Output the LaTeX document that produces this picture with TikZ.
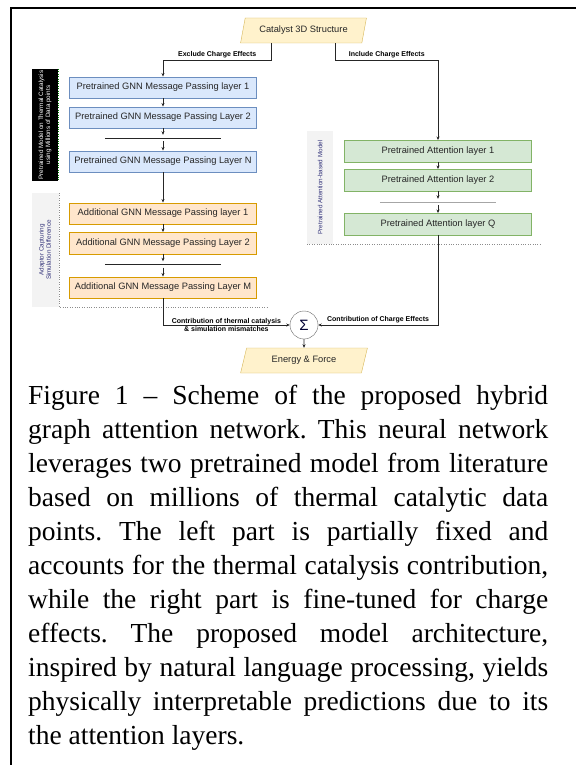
\documentclass[tikz,border=0pt]{standalone}
\usepackage{fontspec}
\setmainfont{Liberation Sans}
\newfontfamily\capfont{Liberation Serif}
\usetikzlibrary{shapes.geometric,arrows.meta}

\definecolor{gnnfill}{HTML}{DAE8FC}
\definecolor{gnnline}{HTML}{6C8EBF}
\definecolor{adpfill}{HTML}{FFE6CC}
\definecolor{adpline}{HTML}{D79B00}
\definecolor{attfill}{HTML}{D5E8D4}
\definecolor{attline}{HTML}{82B366}
\definecolor{iofill}{HTML}{FFF2CC}
\definecolor{ioline}{HTML}{D6B656}
\definecolor{tagfill}{HTML}{F3F3F3}

\tikzset{
  layer/.style={draw, minimum width=187pt, minimum height=21.5pt, inner sep=0pt,
    font=\fontsize{9.3}{10}\selectfont, text=black!85},
  gnn/.style={layer, fill=gnnfill, draw=gnnline},
  adp/.style={layer, fill=adpfill, draw=adpline},
  att/.style={layer, fill=attfill, draw=attline},
  io/.style={trapezium, trapezium left angle=68, trapezium right angle=112,
    trapezium stretches=true, minimum width=127pt, minimum height=25pt, inner sep=0pt,
    fill=iofill, draw=ioline, font=\fontsize{9.3}{10}\selectfont, text=black!85},
  gap/.style={minimum width=116pt, minimum height=6pt, inner sep=0pt},
  flow/.style={->, draw=black!85, line width=0.6pt},
  flowlabel/.style={font=\bfseries\fontsize{7}{7.5}\selectfont, inner sep=1.5pt},
  sidetag/.style={rotate=90, inner sep=0pt, align=center, font=\fontsize{6.3}{7.2}\selectfont},
  sum/.style={circle, draw=black!60, minimum size=28pt, inner sep=0pt,
    font=\fontsize{15}{15}\selectfont, text=black!80!blue}
}

\begin{document}
\begin{tikzpicture}[x=1pt, y=-1pt, node distance=29.5pt, >={Stealth[length=3.5pt,width=3pt]}]
  \useasboundingbox (0,0) rectangle (576,765);
  \draw[line width=2pt, line join=miter] (10.5,765) -- (10.5,8) -- (576,8);

  % input
  \node[io] (cat) at (303.5,30.5) {Catalyst 3D Structure};

  % thermal branch
  \node[gnn] (b1) at (163,87.5) {Pretrained GNN Message Passing layer 1};
  \node[gnn] (b2) [below of=b1, node distance=30pt] {Pretrained GNN Message Passing Layer 2};
  \node[gap] (sepL) [below of=b2, node distance=20.5pt] {};
  \node[gnn] (bN) [below of=sepL, node distance=23.5pt] {Pretrained GNN Message Passing Layer N};
  \node[adp] (a1) [below of=bN, node distance=52pt] {Additional GNN Message Passing layer 1};
  \node[adp] (a2) [below of=a1] {Additional GNN Message Passing Layer 2};
  \node[gap] (sepA) [below of=a2, node distance=21.5pt] {};
  \node[adp] (aM) [below of=sepA, node distance=23pt] {Additional GNN Message Passing Layer M};

  % charge branch
  \node[att] (g1) at (438,151) {Pretrained Attention layer 1};
  \node[att] (g2) [below of=g1, node distance=29pt] {Pretrained Attention layer 2};
  \node[gap] (sepR) [below of=g2, node distance=22pt] {};
  \node[att] (gQ) [below of=sepR, node distance=22pt] {Pretrained Attention layer Q};

  % side tags
  \node[sidetag, fill=black, text=white, minimum width=112pt, minimum height=26pt] (tagP) at (45,125)
    {Pretrained Model on Thermal Catalysis\\using Millions of Data points};
  \draw[dotted, green!50!black] (58,69) -- (58,181);
  \node[sidetag, fill=tagfill, text=black!65!blue!80, minimum width=114pt, minimum height=27pt] (tagA) at (45,250)
    {Adaptor Capturing\\Simulation Difference};
  \draw[dotted, black!45] (59,193) -- (59,307) -- (268,307);
  \node[sidetag, fill=tagfill, text=black!65!blue!80, minimum width=113pt, minimum height=26pt] (tagR) at (320,187.5)
    {Pretrained Attention-based Model};
  \draw[dotted, black!45] (307,244) -- (542,244);

  \draw[black!85] (sepL.west) -- (sepL.east);
  \draw[black!85] (sepA.west) -- (sepA.east);
  \draw[black!35, line width=1pt] (sepR.west) -- (sepR.east);

  % output
  \node[sum] (sig) at (304,325) {Σ};
  \node[io] (en) [below of=sig, node distance=35.5pt] {Energy \& Force};

  \coordinate (exc) at (163,60);
  \coordinate (inc) at (438,60);
  \draw[flow] ([xshift=-32pt]cat.south) |- node[flowlabel, above, pos=0.75] {Exclude Charge Effects} (exc) -- (b1);
  \draw[flow] ([xshift=32pt]cat.south) |- node[flowlabel, above, pos=0.75] {Include Charge Effects} (inc) -- (g1);

  \path[flow] (b1) edge (b2);
  \path[flow] (b2) edge (sepL);
  \path[flow] (sepL) edge (bN);
  \path[flow] (bN) edge (a1);
  \path[flow] (a1) edge (a2);
  \path[flow] (a2) edge (sepA);
  \path[flow] (sepA) edge (aM);
  \path[flow] (g1) edge (g2);
  \path[flow] (g2) edge (sepR);
  \path[flow] (sepR) edge (gQ);

  \draw[flow] (aM) |- node[flowlabel, pos=0.75, align=center]
    {Contribution of thermal catalysis\\\& simulation mismatches} (sig);
  \draw[flow] (gQ) |- node[flowlabel, above, pos=0.75] {Contribution of Charge Effects} (sig);
  \path[flow] (sig) edge (en);

  % caption
  \node[anchor=north west, inner sep=0pt, text width=520pt, align=justify,
    font=\capfont\fontsize{27.5}{34}\selectfont] (cap) at (28,385)
    {\frenchspacing\tolerance=10000\hyphenpenalty=10000
    Figure 1 – Scheme of the proposed hybrid\linebreak
    graph attention network. This neural network\linebreak
    leverages two pretrained model from literature\linebreak
    based on millions of thermal catalytic data\linebreak
    points. The left part is partially fixed and\linebreak
    accounts for the thermal catalysis contribution,\linebreak
    while the right part is fine-tuned for charge\linebreak
    effects. The proposed model architecture,\linebreak
    inspired by natural language processing, yields\linebreak
    physically interpretable predictions due to its\linebreak
    the attention layers.};
\end{tikzpicture}
\end{document}
